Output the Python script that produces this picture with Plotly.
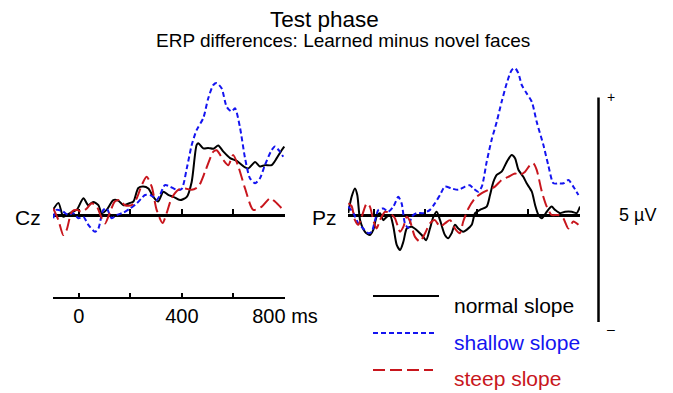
import plotly.graph_objects as go

# ---------------- data (time in ms, amplitude in µV) ----------------
cz_normal_t = [-100, -79, -60, -47, -27, -8, 18, 37, 56, 76, 89, 108, 134, 153, 173, 199, 212, 231, 250, 270, 289, 308, 328, 347, 367, 393, 419, 438, 457, 464, 483, 502, 522, 541, 561, 587, 613, 645, 658, 684, 703, 722, 748, 768, 787, 797]
cz_normal_v = [0.11, 0.26, -0.04, 0.0, 0.06, 0.11, 0.36, 0.21, 0.28, 0.21, 0.04, 0.11, 0.32, 0.31, 0.21, 0.26, 0.29, 0.58, 0.61, 0.57, 0.39, 0.29, 0.50, 0.43, 0.39, 0.32, 0.39, 0.71, 1.50, 1.54, 1.43, 1.44, 1.42, 1.49, 1.36, 1.22, 1.16, 1.02, 1.00, 1.14, 1.04, 1.07, 1.07, 1.22, 1.39, 1.47]

cz_shallow_t = [-99, -86, -60, -41, -21, -2, 18, 37, 63, 76, 95, 108, 128, 147, 173, 199, 225, 244, 257, 276, 289, 302, 315, 334, 354, 380, 399, 419, 438, 457, 483, 502, 522, 535, 554, 574, 593, 606, 625, 645, 664, 684, 703, 722, 748, 761, 780, 793]
cz_shallow_v = [-0.07, 0.11, 0.07, 0.0, 0.04, -0.07, -0.04, -0.21, -0.36, -0.29, 0.11, 0.14, -0.07, 0.0, 0.05, 0.14, 0.25, 0.36, 0.43, 0.43, 0.39, 0.32, 0.43, 0.64, 0.61, 0.54, 0.56, 1.00, 1.50, 1.82, 2.08, 2.50, 2.79, 2.83, 2.72, 2.32, 2.22, 2.29, 1.89, 1.22, 0.79, 0.68, 0.79, 1.07, 1.39, 1.47, 1.36, 1.25]

cz_steep_t = [-99, -79, -60, -47, -27, -8, 11, 31, 50, 70, 89, 102, 121, 140, 160, 179, 205, 225, 244, 263, 283, 302, 325, 341, 360, 386, 412, 438, 464, 490, 522, 535, 561, 580, 599, 619, 645, 677, 710, 742, 761, 793]
cz_steep_v = [0.14, -0.11, -0.43, -0.32, 0.07, 0.11, 0.07, 0.14, 0.25, 0.18, -0.07, -0.18, 0.06, 0.29, 0.32, 0.21, 0.21, 0.36, 0.64, 0.82, 0.61, 0.11, -0.17, 0.04, 0.36, 0.54, 0.57, 0.54, 0.61, 0.93, 1.36, 1.39, 1.18, 1.07, 1.29, 1.04, 0.57, 0.11, 0.18, 0.36, 0.29, 0.11]

pz_normal_t = [-99, -86, -73, -64, -53, -34, -15, -2, 11, 24, 37, 50, 63, 76, 89, 102, 115, 128, 147, 166, 186, 203, 218, 231, 244, 257, 276, 289, 302, 315, 328, 347, 360, 380, 393, 412, 438, 451, 464, 477, 496, 516, 535, 548, 561, 580, 593, 613, 626, 639, 652, 671, 690, 703, 722, 742, 768, 787, 800]
pz_normal_v = [0.04, 0.39, 0.57, 0.43, -0.11, -0.36, -0.43, -0.32, -0.04, 0.04, -0.11, -0.04, 0.0, -0.25, -0.64, -0.75, -0.57, -0.29, -0.25, -0.32, -0.43, -0.54, -0.29, -0.04, 0.07, -0.11, -0.43, -0.50, -0.39, -0.21, -0.29, -0.36, -0.32, -0.21, 0.04, 0.11, 0.18, 0.43, 0.71, 0.86, 0.93, 1.14, 1.29, 1.22, 0.97, 0.82, 0.68, 0.50, 0.21, 0.0, -0.07, 0.07, 0.18, 0.11, 0.04, 0.07, 0.07, 0.04, 0.18]

pz_shallow_t = [-99, -79, -60, -41, -21, -8, 5, 18, 37, 56, 76, 95, 108, 121, 134, 147, 166, 192, 218, 237, 257, 276, 302, 328, 354, 373, 386, 405, 419, 438, 457, 477, 496, 516, 535, 548, 561, 574, 593, 613, 632, 658, 677, 697, 716, 736, 755, 774, 794]
pz_shallow_v = [0.18, 0.04, -0.18, -0.29, -0.39, -0.36, -0.11, 0.11, 0.14, 0.07, 0.18, 0.39, 0.25, -0.18, -0.28, -0.04, 0.04, 0.04, 0.11, 0.25, 0.43, 0.61, 0.57, 0.54, 0.61, 0.64, 0.57, 0.50, 0.61, 1.14, 1.61, 2.00, 2.43, 2.83, 3.11, 3.15, 3.04, 2.79, 2.61, 2.43, 2.00, 1.50, 1.07, 0.68, 0.68, 0.68, 0.75, 0.61, 0.43]

pz_steep_t = [-99, -86, -73, -60, -47, -27, -15, -2, 11, 24, 44, 63, 82, 102, 115, 128, 141, 160, 179, 199, 218, 237, 257, 276, 296, 315, 334, 347, 367, 393, 419, 444, 470, 496, 522, 548, 567, 587, 606, 619, 632, 652, 671, 690, 716, 735, 755, 774, 794]
pz_steep_v = [0.25, 0.19, -0.11, -0.21, -0.04, 0.25, 0.18, -0.11, -0.29, -0.11, 0.07, 0.04, -0.07, -0.36, -0.25, -0.04, -0.14, -0.47, -0.57, -0.39, -0.18, -0.11, -0.25, -0.18, -0.11, -0.29, -0.39, -0.14, 0.14, 0.36, 0.47, 0.54, 0.61, 0.75, 0.82, 0.89, 0.86, 0.93, 1.07, 1.11, 0.97, 0.50, 0.18, 0.0, 0.0, -0.07, -0.29, -0.14, -0.21]

series_names = ["normal slope", "shallow slope", "steep slope"]
time_ticks = [0, 200, 400, 600, 800]
time_tick_labels = ["0", "", "400", "", "800 ms"]
electrodes = ["Cz", "Pz"]

# ---------------- styling ----------------
W, H = 673, 393
FONT = "Liberation Sans, Arial, Helvetica, sans-serif"
colors = {"normal slope": "#000000", "shallow slope": "#1414F0", "steep slope": "#C8161D"}
dashes = {"normal slope": "solid", "shallow slope": "5px,3px", "steep slope": "12px,5px"}

PX_PER_UV = 46.6
BASE_PX = 215.0
y_range = [-(H - BASE_PX) / PX_PER_UV, BASE_PX / PX_PER_UV]
base_pos = (0 - y_range[0]) / (y_range[1] - y_range[0])


def px(x):
    return x / W


def py(y):
    return 1 - y / H


fig = go.Figure()

panels = [
    ("x", "y", [(cz_normal_t, cz_normal_v), (cz_shallow_t, cz_shallow_v), (cz_steep_t, cz_steep_v)]),
    ("x2", "y2", [(pz_normal_t, pz_normal_v), (pz_shallow_t, pz_shallow_v), (pz_steep_t, pz_steep_v)]),
]
for xa, ya, data in panels:
    for name, (t, v) in zip(series_names, data):
        fig.add_trace(go.Scatter(
            x=t, y=v, mode="lines", name=name, showlegend=False,
            xaxis=xa, yaxis=ya,
            line=dict(color=colors[name], width=2, dash=dashes[name], shape="spline", smoothing=0.7),
            hoverinfo="skip",
        ))

# invisible trace to carry the time axis
fig.add_trace(go.Scatter(x=[-100, 800], y=[None, None], xaxis="x3", yaxis="y3", mode="lines",
                         showlegend=False, hoverinfo="skip"))

cz_dom = [px(53), px(285)]
pz_dom = [px(348), px(580)]

base_axis = dict(range=[-100, 800], showgrid=False, zeroline=False, showline=True,
                 linecolor="black", linewidth=3, ticks="inside", ticklen=5, tickwidth=2,
                 tickcolor="black", tickvals=time_ticks, showticklabels=False,
                 anchor="free", position=base_pos, automargin=False, layer="below traces")

fig.update_layout(
    width=W, height=H, margin=dict(l=0, r=0, t=0, b=0, pad=0, autoexpand=False),
    paper_bgcolor="white", plot_bgcolor="rgba(0,0,0,0)", showlegend=False,
    font=dict(family=FONT, color="black"),
    xaxis=dict(domain=cz_dom, **base_axis),
    xaxis2=dict(domain=pz_dom, **base_axis),
    xaxis3=dict(domain=cz_dom, range=[-100, 800], showgrid=False, zeroline=False, showline=True,
                linecolor="black", linewidth=2, ticks="inside", ticklen=4, tickwidth=1.5,
                tickcolor="black", tickvals=time_ticks, ticktext=time_tick_labels,
                tickfont=dict(size=20, family=FONT, color="black"), automargin=False,
                anchor="y3"),
    yaxis=dict(domain=[0, 1], range=y_range, visible=False, automargin=False),
    yaxis2=dict(domain=[0, 1], range=y_range, visible=False, anchor="x2", automargin=False),
    yaxis3=dict(domain=[py(297), py(280)], range=[0, 1], visible=False, anchor="x3", automargin=False),
)

annotations = [
    dict(text="Test phase", x=px(324), y=py(19), font=dict(size=22.5)),
    dict(text="ERP differences: Learned minus novel faces", x=px(343), y=py(41), font=dict(size=19)),
    dict(text=electrodes[0], x=px(28), y=py(218), font=dict(size=21)),
    dict(text=electrodes[1], x=px(324), y=py(218), font=dict(size=21)),
    dict(text="+", x=px(611), y=py(97), font=dict(size=14)),
    dict(text="\u2013", x=px(611), y=py(329), font=dict(size=14)),
    dict(text="5 \u00b5V", x=px(637), y=py(215), font=dict(size=18)),
]
leg_y_line = [296, 333, 370]
leg_y_text = [305, 342, 378]
leg_x_end = [439, 436, 433]
for name, yl, yt, xe in zip(series_names, leg_y_line, leg_y_text, leg_x_end):
    fig.add_shape(type="line", xref="paper", yref="paper", x0=px(373), x1=px(xe), y0=py(yl), y1=py(yl),
                  line=dict(color=colors[name], width=2, dash=dashes[name]))
    annotations.append(dict(text=name, x=px(452), y=py(yt), xanchor="left",
                            font=dict(size=21, color=colors[name])))

for a in annotations:
    a.setdefault("xanchor", "center")
    a.update(xref="paper", yref="paper", yanchor="middle", showarrow=False)
    a["font"].setdefault("family", FONT)
    a["font"].setdefault("color", "black")
fig.update_layout(annotations=annotations)

# scale bar
fig.add_shape(type="line", xref="paper", yref="paper", x0=px(598.5), x1=px(598.5), y0=py(97.5), y1=py(322),
              line=dict(color="black", width=2.5))

fig.write_html("out.html")
